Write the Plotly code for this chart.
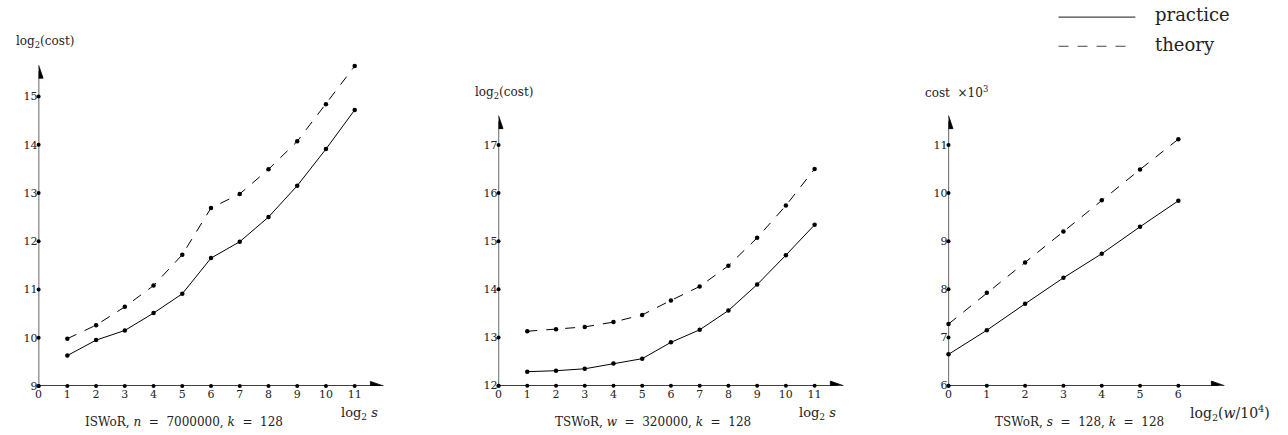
import plotly.graph_objects as go

W, H = 1288, 435
# vertical correction: the photographed page came out ~2% shorter than laid out
K = 1.0215

# ---------------- data ----------------
p1_x = [1, 2, 3, 4, 5, 6, 7, 8, 9, 10, 11]
p1_practice = [9.63, 9.95, 10.15, 10.51, 10.91, 11.65, 11.99, 12.50, 13.15, 13.91, 14.72]
p1_theory = [9.98, 10.26, 10.64, 11.08, 11.72, 12.69, 12.98, 13.49, 14.07, 14.84, 15.63]

p2_x = [1, 2, 3, 4, 5, 6, 7, 8, 9, 10, 11]
p2_practice = [12.29, 12.31, 12.35, 12.46, 12.56, 12.90, 13.16, 13.56, 14.10, 14.71, 15.34]
p2_theory = [13.13, 13.17, 13.22, 13.32, 13.47, 13.77, 14.06, 14.49, 15.07, 15.74, 16.50]

p3_x = [0, 1, 2, 3, 4, 5, 6]
p3_practice = [6.65, 7.15, 7.70, 8.24, 8.74, 9.30, 9.84]
p3_theory = [7.28, 7.93, 8.56, 9.20, 9.85, 10.49, 11.12]

p1_xticks = list(range(0, 12))
p1_yticks = list(range(9, 16))
p2_xticks = list(range(0, 12))
p2_yticks = list(range(12, 18))
p3_xticks = list(range(0, 7))
p3_yticks = list(range(6, 12))

FONT = "DejaVu Serif"
TXT = "#222222"
NB = "\u00a0"

fig = go.Figure()


def px_x(p):
    return p / W


def px_y(p):
    return (H - p * K) / H


panels = [
    dict(ax="", x0=35.7, xs=28.8, xr=[0, 13], y0=384.0, ys=48.0, yr=[9, 16],
         xt=p1_xticks, yt=p1_yticks, xtip=12.0, ytip=15.65,
         xs_data=p1_x, pr=p1_practice, th=p1_theory),
    dict(ax="2", x0=496.7, xs=28.8, xr=[0, 13], y0=383.7, ys=47.9, yr=[12, 18],
         xt=p2_xticks, yt=p2_yticks, xtip=12.0, ytip=17.61,
         xs_data=p2_x, pr=p2_practice, th=p2_theory),
    dict(ax="3", x0=947.7, xs=38.4, xr=[0, 8.5], y0=383.7, ys=47.9, yr=[6, 12],
         xt=p3_xticks, yt=p3_yticks, xtip=7.2, ytip=11.61,
         xs_data=p3_x, pr=p3_practice, th=p3_theory),
]

shapes = []
layout_axes = {}
for p in panels:
    xa = "x" + p["ax"]
    ya = "y" + p["ax"]
    xleft = p["x0"]
    xright = p["x0"] + (p["xr"][1] - p["xr"][0]) * p["xs"]
    ybot = p["y0"]
    ytop = p["y0"] - (p["yr"][1] - p["yr"][0]) * p["ys"]
    xkey = "xaxis" + p["ax"]
    ykey = "yaxis" + p["ax"]
    layout_axes[xkey] = dict(
        domain=[px_x(xleft), min(1.0, px_x(xright))], range=p["xr"], anchor=ya,
        showgrid=False, zeroline=False, showline=False, ticks="",
        tickvals=p["xt"], ticktext=[str(v) for v in p["xt"]],
        tickfont=dict(family=FONT, size=11, color=TXT),
    )
    layout_axes[ykey] = dict(
        domain=[px_y(ybot), px_y(ytop)], range=p["yr"], anchor=xa,
        showgrid=False, zeroline=False, showline=False, ticks="",
        tickvals=p["yt"], ticktext=[str(v) for v in p["yt"]],
        tickfont=dict(family=FONT, size=11, color=TXT),
    )
    ymin = p["yr"][0]
    # axes lines
    shapes.append(dict(type="line", xref=xa, yref=ya, x0=0, y0=ymin, x1=p["xtip"] - 6 / p["xs"], y1=ymin,
                       line=dict(color="black", width=1.2)))
    shapes.append(dict(type="line", xref=xa, yref=ya, x0=0, y0=ymin, x1=0, y1=p["ytip"] - 6 / p["ys"],
                       line=dict(color="black", width=1.2)))
    # arrowheads (13 px long, 9 px wide), converted to data units
    hx = 13 / p["xs"]
    wy = 4.5 / p["ys"]
    fig.add_trace(go.Scatter(
        x=[p["xtip"], p["xtip"] - hx, p["xtip"] - hx, p["xtip"]],
        y=[ymin, ymin + wy, ymin - wy, ymin],
        mode="lines", fill="toself", fillcolor="black", line=dict(color="black", width=0.8),
        xaxis=xa, yaxis=ya, showlegend=False, cliponaxis=False, hoverinfo="skip"))
    hy = 13 / p["ys"]
    wx = 4.5 / p["xs"]
    fig.add_trace(go.Scatter(
        x=[0, wx, -wx, 0],
        y=[p["ytip"], p["ytip"] - hy, p["ytip"] - hy, p["ytip"]],
        mode="lines", fill="toself", fillcolor="black", line=dict(color="black", width=0.8),
        xaxis=xa, yaxis=ya, showlegend=False, cliponaxis=False, hoverinfo="skip"))
    # tick dots
    fig.add_trace(go.Scatter(x=p["xt"], y=[ymin] * len(p["xt"]), mode="markers",
                             marker=dict(size=4, color="black"), xaxis=xa, yaxis=ya,
                             showlegend=False, cliponaxis=False, hoverinfo="skip"))
    fig.add_trace(go.Scatter(x=[0] * len(p["yt"]), y=p["yt"], mode="markers",
                             marker=dict(size=4, color="black"), xaxis=xa, yaxis=ya,
                             showlegend=False, cliponaxis=False, hoverinfo="skip"))
    # data
    fig.add_trace(go.Scatter(x=p["xs_data"], y=p["pr"], mode="lines+markers", name="practice",
                             line=dict(color="black", width=1),
                             marker=dict(size=4.5, color="black"), xaxis=xa, yaxis=ya,
                             showlegend=False, cliponaxis=False))
    fig.add_trace(go.Scatter(x=p["xs_data"], y=p["th"], mode="lines+markers", name="theory",
                             line=dict(color="black", width=1, dash="10px,9px"),
                             marker=dict(size=4.5, color="black"), xaxis=xa, yaxis=ya,
                             showlegend=False, cliponaxis=False))

annotations = []


def ann(text, x, y, xanchor="left", size=11, yanchor="middle"):
    annotations.append(dict(text=text, x=px_x(x), y=px_y(y), xref="paper", yref="paper",
                            xanchor=xanchor, yanchor=yanchor, showarrow=False,
                            font=dict(family=FONT, size=size, color=TXT)))


# y axis titles
ann("log<sub>2</sub>(cost)", 11, 42, "left", 12)
ann("log<sub>2</sub>(cost)", 471, 93, "left", 12)
ann("cost" + NB + NB + "×10<sup>3</sup>", 922, 92, "left", 12)
# x axis titles
ann("log<sub>2</sub> <i>s</i>", 378, 411, "right", 13)
ann("log<sub>2</sub> <i>s</i>", 837, 411, "right", 13)
ann("log<sub>2</sub>(<i>w</i>/10<sup>4</sup>)", 1188, 411, "left", 14)
# captions
eq = NB + "=" + NB
ann("ISWoR, <i>n</i> " + eq + " 7000000, <i>k</i> " + eq + " 128", 181, 420, "center", 12)
ann("TSWoR, <i>w</i> " + eq + " 320000, <i>k</i> " + eq + " 128", 652, 420, "center", 12)
ann("TSWoR, <i>s</i> " + eq + " 128, <i>k</i> " + eq + " 128", 1079, 420, "center", 12)

# legend
shapes.append(dict(type="line", xref="paper", yref="paper", x0=px_x(1058), x1=px_x(1135),
                   y0=px_y(17), y1=px_y(17), line=dict(color="#444444", width=1.2)))
shapes.append(dict(type="line", xref="paper", yref="paper", x0=px_x(1058), x1=px_x(1127),
                   y0=px_y(46), y1=px_y(46), line=dict(color="#444444", width=1.2, dash="10px,9px")))
ann("practice", 1153, 14, "left", 18)
ann("theory", 1153, 44, "left", 18)

fig.update_layout(
    width=W, height=H,
    margin=dict(l=0, r=0, t=0, b=0),
    paper_bgcolor="white", plot_bgcolor="white",
    shapes=shapes, annotations=annotations,
    showlegend=False,
    **layout_axes,
)

# remove the page's default body margin so the figure starts at the window's corner
fig.write_html("out.html", config={"displayModeBar": False},
               post_script="document.body.style.margin='0';document.body.style.overflow='hidden';")
